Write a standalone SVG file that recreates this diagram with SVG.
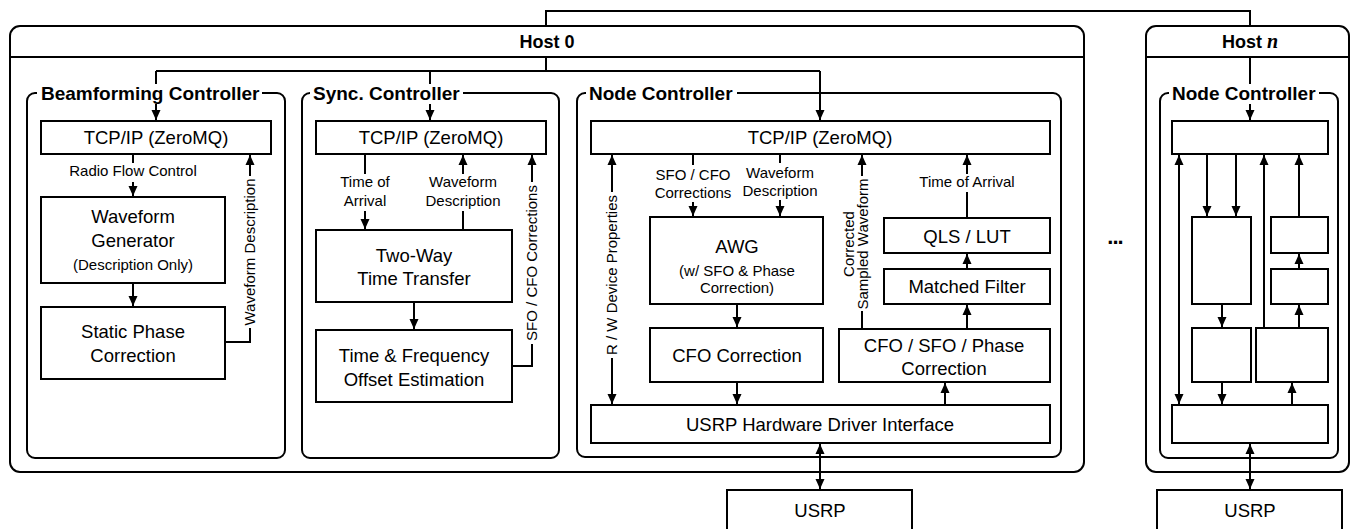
<svg xmlns="http://www.w3.org/2000/svg" width="1351" height="529" viewBox="0 0 1351 529">
<defs>
<marker id="ah" markerUnits="userSpaceOnUse" markerWidth="11" markerHeight="10" refX="10" refY="5" orient="auto-start-reverse" viewBox="0 0 11 10">
<path d="M0,0.5 L10,5 L0,9.5 z" fill="#000"/>
</marker>
<style>
.box{fill:#fff;stroke:#000;stroke-width:2}
.host{fill:#fff;stroke:#000;stroke-width:2}
.ctl{fill:none;stroke:#000;stroke-width:2}
.ln{fill:none;stroke:#000;stroke-width:2}
.arr{fill:none;stroke:#000;stroke-width:2;marker-end:url(#ah)}
.bi{fill:none;stroke:#000;stroke-width:2;marker-end:url(#ah);marker-start:url(#ah)}
.bg{fill:#fff;stroke:none}
text{font-family:"Liberation Sans",Arial,Helvetica,sans-serif;fill:#000}
.t{font-size:18.5px;text-anchor:middle}
.s{font-size:15px;text-anchor:middle}
.ti{font-size:19px;font-weight:bold}
.ht{font-size:18px;font-weight:bold;text-anchor:middle}
</style>
</defs>
<rect width="1351" height="529" fill="#fff"/>

<g id="host0">
<rect class="host" x="10" y="26" width="1074" height="446" rx="10"/>
<line class="ln" x1="10" y1="57" x2="1084" y2="57"/>
<text class="ht" x="547" y="48">Host 0</text>
</g>

<g id="hostn">
<rect class="host" x="1146" y="26" width="203" height="446" rx="10"/>
<line class="ln" x1="1146" y1="57" x2="1349" y2="57"/>
<text class="ht" x="1250" y="48">Host <tspan font-family="'Liberation Serif','Times New Roman',serif" font-style="italic" font-size="20px">n</tspan></text>
</g>

<g id="bf-controller">
<rect class="ctl" x="27" y="93" width="258" height="365" rx="8"/>
</g>
<g id="sync-controller">
<rect class="ctl" x="302" y="93" width="257" height="365" rx="8"/>
</g>
<g id="node-controller">
<rect class="ctl" x="577" y="93" width="484" height="364" rx="8"/>
</g>
<g id="node-controller-n">
<rect class="ctl" x="1160" y="93" width="178" height="365" rx="8"/>
</g>

<g id="connectors">
<path class="ln" d="M546,26 V11 H1250 V26"/>
<path class="ln" d="M546,57 V71 M156,71 H820"/>
<path class="arr" d="M156,71 V120"/>
<path class="arr" d="M430,71 V120"/>
<path class="arr" d="M820,71 V120"/>
<path class="arr" d="M1250,57 V120"/>
<path class="arr" d="M133,154 V196"/>
<path class="arr" d="M133,283 V306"/>
<path class="arr" d="M225,342 H250 V155"/>
<path class="arr" d="M365,154 V229"/>
<path class="arr" d="M463,230 V155"/>
<path class="arr" d="M414,302 V329"/>
<path class="arr" d="M512,366 H532 V155"/>
<path class="bi" d="M612,155 V404"/>
<path class="arr" d="M693,154 V216"/>
<path class="arr" d="M780,154 V216"/>
<path class="arr" d="M737,304 V327"/>
<path class="arr" d="M737,382 V404"/>
<path class="bi" d="M820,444 V489"/>
<path class="arr" d="M945,405 V383"/>
<path class="arr" d="M967,329 V305"/>
<path class="arr" d="M967,269 V254"/>
<path class="arr" d="M967,218 V155"/>
<path class="arr" d="M862,329 V155"/>
<path class="bi" d="M1179,155 V404"/>
<path class="arr" d="M1207,154 V216"/>
<path class="arr" d="M1236,154 V216"/>
<path class="arr" d="M1264,328 V155"/>
<path class="arr" d="M1299,217 V155"/>
<path class="arr" d="M1222,304 V327"/>
<path class="arr" d="M1222,382 V404"/>
<path class="arr" d="M1299,269 V254"/>
<path class="arr" d="M1299,328 V305"/>
<path class="arr" d="M1292,405 V383"/>
<path class="bi" d="M1250,444 V489"/>

<g id="labels">
<rect class="bg" x="65" y="163" width="136" height="19"/>
<text class="s" x="133" y="176">Radio Flow Control</text>
<rect class="bg" x="242" y="176" width="16" height="152"/>
<text class="s" transform="translate(250,252) rotate(-90)" dy="5.3">Waveform Description</text>

<rect class="bg" x="338" y="174" width="54" height="37"/>
<text class="s" x="365" y="187">Time of</text>
<text class="s" x="365" y="206">Arrival</text>
<rect class="bg" x="425" y="174" width="76" height="37"/>
<text class="s" x="463" y="187">Waveform</text>
<text class="s" x="463" y="206">Description</text>
<rect class="bg" x="524" y="182" width="16" height="162"/>
<text class="s" transform="translate(532,263) rotate(-90)" dy="5.3">SFO / CFO Corrections</text>

<rect class="bg" x="604" y="192" width="16" height="166"/>
<text class="s" transform="translate(612,275) rotate(-90)" dy="5.3">R / W Device Properties</text>
<rect class="bg" x="655" y="165" width="76" height="37"/>
<text class="s" x="693" y="180">SFO / CFO</text>
<text class="s" x="693" y="198">Corrections</text>
<rect class="bg" x="742" y="163" width="76" height="37"/>
<text class="s" x="780" y="178">Waveform</text>
<text class="s" x="780" y="196">Description</text>
<rect class="bg" x="839" y="176" width="33" height="135"/>
<text class="s" transform="translate(849,244) rotate(-90)" dy="5.3">Corrected</text>
<text class="s" transform="translate(863,244) rotate(-90)" dy="5.3">Sampled Waveform</text>
<rect class="bg" x="917" y="174" width="100" height="18"/>
<text class="s" x="967" y="187">Time of Arrival</text>
</g>
</g>

<g id="titles">
<rect class="bg" x="37" y="84" width="225" height="20"/>
<text class="ti" x="41" y="100">Beamforming Controller</text>
<rect class="bg" x="310" y="84" width="153" height="20"/>
<text class="ti" x="313" y="100">Sync. Controller</text>
<rect class="bg" x="586" y="84" width="151" height="20"/>
<text class="ti" x="589" y="100">Node Controller</text>
<rect class="bg" x="1169" y="84" width="150" height="20"/>
<text class="ti" x="1172" y="100">Node Controller</text>
</g>

<g id="bf-tcp"><rect class="box" x="41" y="121" width="230" height="33"/><text class="t" x="156" y="144">TCP/IP (ZeroMQ)</text></g>
<g id="bf-wavegen"><rect class="box" x="41" y="197" width="184" height="86"/><text class="t" x="133" y="223">Waveform</text><text class="t" x="133" y="247">Generator</text><text class="s" x="133" y="270">(Description Only)</text></g>
<g id="bf-phase"><rect class="box" x="41" y="307" width="184" height="72"/><text class="t" x="133" y="338">Static Phase</text><text class="t" x="133" y="362">Correction</text></g>

<g id="sync-tcp"><rect class="box" x="316" y="121" width="230" height="33"/><text class="t" x="431" y="144">TCP/IP (ZeroMQ)</text></g>
<g id="sync-twtt"><rect class="box" x="316" y="230" width="196" height="72"/><text class="t" x="414" y="262">Two-Way</text><text class="t" x="414" y="285">Time Transfer</text></g>
<g id="sync-est"><rect class="box" x="316" y="330" width="196" height="72"/><text class="t" x="414" y="362">Time &amp; Frequency</text><text class="t" x="414" y="386">Offset Estimation</text></g>

<g id="node-tcp"><rect class="box" x="591" y="121" width="459" height="33"/><text class="t" x="820" y="144">TCP/IP (ZeroMQ)</text></g>
<g id="node-awg"><rect class="box" x="650" y="217" width="173" height="87"/><text class="t" x="737" y="253">AWG</text><text class="s" x="737" y="276">(w/ SFO &amp; Phase</text><text class="s" x="737" y="293">Correction)</text></g>
<g id="node-cfo"><rect class="box" x="650" y="328" width="173" height="54"/><text class="t" x="737" y="362">CFO Correction</text></g>
<g id="node-hw"><rect class="box" x="591" y="405" width="459" height="38"/><text class="t" x="820" y="431">USRP Hardware Driver Interface</text></g>
<g id="node-corr"><rect class="box" x="839" y="329" width="211" height="53"/><text class="t" x="944" y="352">CFO / SFO / Phase</text><text class="t" x="944" y="375">Correction</text></g>
<g id="node-mf"><rect class="box" x="884" y="269" width="166" height="35"/><text class="t" x="967" y="293">Matched Filter</text></g>
<g id="node-qls"><rect class="box" x="884" y="218" width="166" height="35"/><text class="t" x="967" y="243">QLS / LUT</text></g>
<g id="usrp0"><rect class="box" x="727" y="490" width="185" height="45"/><text class="t" x="820" y="517">USRP</text></g>

<g id="n-tcp"><rect class="box" x="1172" y="121" width="156" height="33"/></g>
<g id="n-awg"><rect class="box" x="1192" y="217" width="59" height="87"/></g>
<g id="n-cfo"><rect class="box" x="1192" y="328" width="59" height="54"/></g>
<g id="n-qls"><rect class="box" x="1271" y="217" width="57" height="36"/></g>
<g id="n-mf"><rect class="box" x="1271" y="269" width="57" height="35"/></g>
<g id="n-corr"><rect class="box" x="1256" y="328" width="72" height="54"/></g>
<g id="n-hw"><rect class="box" x="1172" y="405" width="156" height="38"/></g>
<g id="usrpn"><rect class="box" x="1157" y="490" width="185" height="45"/><text class="t" x="1250" y="517">USRP</text></g>

<g id="ellipsis"><text x="1115" y="244" font-size="22px" font-weight="bold" text-anchor="middle" letter-spacing="-1">...</text></g>
</svg>
